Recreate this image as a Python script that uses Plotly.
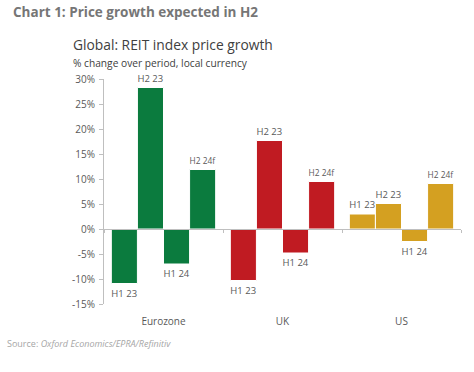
import plotly.graph_objects as go

# ---- data ----
regions = ["Eurozone", "UK", "US"]
periods = ["H1 23", "H2 23", "H1 24", "H2 24f"]
h1_23 = [-10.9, -10.3, 3.0]
h2_23 = [28.3, 17.7, 5.1]
h1_24 = [-7.0, -4.8, -2.5]
h2_24f = [11.9, 9.5, 9.1]
series = [h1_23, h2_23, h1_24, h2_24f]
region_colors = ["#0B7B3E", "#C01B22", "#D4A021"]
tick_values = [-15, -10, -5, 0, 5, 10, 15, 20, 25, 30]
tick_labels = ["-15%", "-10%", "-5%", "0%", "5%", "10%", "15%", "20%", "25%", "30%"]

W, H = 474, 372
L, R, T, B = 104, 474 - 461.5, 79, 372 - 304
pw = W - L - R
ph = H - T - B

def px(x):
    return (x - L) / pw

def py(y):
    return 1 - (y - T) / ph

FONT = "Open Sans"
fig = go.Figure()
for name, vals in zip(periods, series):
    fig.add_trace(go.Bar(
        x=regions, y=vals, name=name,
        marker=dict(color=region_colors, line=dict(color="white", width=1)),
        text=[name] * len(vals), textposition="outside",
        textfont=dict(family=FONT, size=10, color="#595959"),
        cliponaxis=False, showlegend=False,
    ))

# helper trace for zero-line axis with boundary ticks
fig.add_trace(go.Scatter(x=regions, y=[None] * 3, xaxis="x2", yaxis="y",
                         showlegend=False, hoverinfo="skip"))

zero_pos = (0 - (-15)) / 45

fig.update_layout(
    width=W, height=H,
    margin=dict(l=L, r=R, t=T, b=B),
    paper_bgcolor="white", plot_bgcolor="white",
    barmode="group", bargap=0.123, bargroupgap=0,
    font=dict(family=FONT, color="#595959"),
    xaxis=dict(categoryorder="array", categoryarray=regions,
               showline=False, ticks="", showgrid=False, zeroline=False,
               tickfont=dict(family=FONT, size=10, color="#595959"),
               ticklabelstandoff=10),
    xaxis2=dict(overlaying="x", matches="x", anchor="free", position=zero_pos,
                categoryorder="array", categoryarray=regions,
                showline=True, linecolor="#BFBFBF", linewidth=1,
                ticks="outside", ticklen=3, tickcolor="#BFBFBF",
                tickson="boundaries", showticklabels=False, showgrid=False),
    yaxis=dict(range=[-15, 30], tickvals=tick_values, ticktext=tick_labels,
               showline=True, linecolor="#BFBFBF", linewidth=1,
               ticks="outside", ticklen=4, tickcolor="#BFBFBF",
               showgrid=False, zeroline=False, ticklabelstandoff=2,
               tickfont=dict(family=FONT, size=10, color="#595959")),
)

ann = [
    dict(text="<b>Chart 1: Price growth expected in H2</b>", x=px(11), y=py(12),
         font=dict(family=FONT, size=13.5, color="#767676")),
    dict(text="Global: REIT index price growth", x=px(71), y=py(45),
         font=dict(family=FONT, size=13.8, color="#404040")),
    dict(text="% change over period, local currency", x=px(71), y=py(63),
         font=dict(family=FONT, size=10.2, color="#404040")),
    dict(text="Source: <i>Oxford Economics/EPRA/Refinitiv</i>", x=px(5), y=py(343),
         font=dict(family=FONT, size=9, color="#A6A6A6")),
]
for a in ann:
    fig.add_annotation(xref="paper", yref="paper", xanchor="left", yanchor="middle",
                       showarrow=False, **a)

fig.write_html("out.html",
               config={"displayModeBar": False},
               post_script="document.body.style.margin='0';document.body.style.padding='0';")
